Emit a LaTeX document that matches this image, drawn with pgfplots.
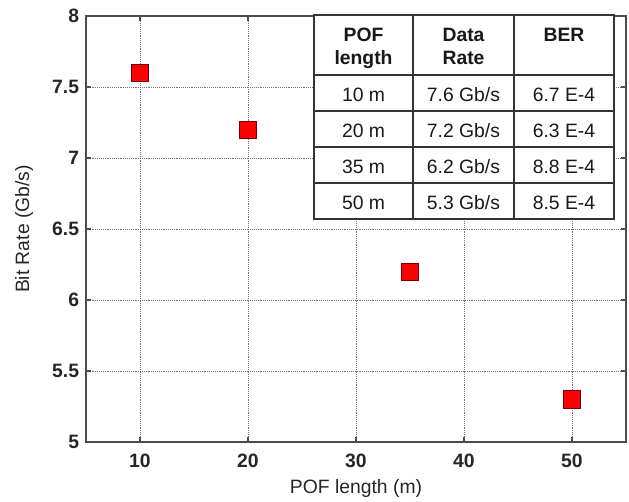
\documentclass[border=0pt]{standalone}
\usepackage{fontspec}
\setmainfont{Liberation Sans}
\usepackage{pgfplots}
\pgfplotsset{compat=1.18}
\begin{document}
\begin{tikzpicture}
\begin{axis}[
  at={(0,0)}, anchor=south west,
  scale only axis, width=405pt, height=319.5pt,
  xmin=5, xmax=55, ymin=5, ymax=8,
  xtick={10,20,30,40,50},
  ytick={5,5.5,6,6.5,7,7.5,8},
  /pgf/number format/assume math mode=true,
  grid=major,
  major grid style={densely dotted, black!55, line width=0.6pt},
  tick align=inside, major tick length=3.75pt,
  axis line style={black!70, line width=0.8pt},
  every tick/.style={black!70, line width=0.8pt},
  ticklabel style={font=\fontsize{14.5}{16}\selectfont\bfseries, text=black!85, inner sep=2pt},
  xticklabel style={yshift=-7pt},
  yticklabel style={xshift=-3pt},
  xlabel={POF length (m)},
  ylabel={Bit Rate (Gb/s)},
  label style={font=\fontsize{14.5}{17}\selectfont, text=black!85},
  xlabel style={at={(axis description cs:0.5,-0.110)}, anchor=center},
  ylabel style={at={(axis description cs:-0.1146,0.5)}, anchor=center, rotate=0},
]
\addplot[only marks, mark=square*, mark size=6.5pt,
  mark options={fill=red, draw=red!45!black, line width=0.5pt}]
  coordinates {(10,7.6) (20,7.2) (35,6.2) (50,5.3)};
\end{axis}
\begin{scope}[x=0.75pt, y=-0.75pt, shift={(-64.5pt,331.5pt)}]
  \fill[white] (314,15) rectangle (614,219);
  \draw[black!80, line width=1pt] (314,15) rectangle (614,219);
  \foreach \yy in {75,111,147,183} \draw[black!80, line width=1pt] (314,\yy) -- (614,\yy);
  \foreach \xx in {413,514} \draw[black!80, line width=1pt] (\xx,15) -- (\xx,219);
  \begin{scope}[every node/.style={font=\fontsize{14.5}{17}\selectfont, text=black!90, anchor=base, inner sep=0pt}]
    \node[font=\fontsize{14.5}{17}\selectfont\bfseries] at (363.5,42) {POF};
    \node[font=\fontsize{14.5}{17}\selectfont\bfseries] at (363.5,65) {length};
    \node[font=\fontsize{14.5}{17}\selectfont\bfseries] at (463.5,42) {Data};
    \node[font=\fontsize{14.5}{17}\selectfont\bfseries] at (463.5,65) {Rate};
    \node[font=\fontsize{14.5}{17}\selectfont\bfseries] at (564,42) {BER};
    \node at (363.5,102) {10 m};
    \node at (463.5,102) {7.6 Gb/s};
    \node at (564,102) {6.7 E-4};
    \node at (363.5,138) {20 m};
    \node at (463.5,138) {7.2 Gb/s};
    \node at (564,138) {6.3 E-4};
    \node at (363.5,174) {35 m};
    \node at (463.5,174) {6.2 Gb/s};
    \node at (564,174) {8.8 E-4};
    \node at (363.5,210) {50 m};
    \node at (463.5,210) {5.3 Gb/s};
    \node at (564,210) {8.5 E-4};
  \end{scope}
\end{scope}
\pgfresetboundingbox
\useasboundingbox (-64.5pt,-45pt) rectangle (407.25pt,331.5pt);
\end{tikzpicture}
\end{document}
